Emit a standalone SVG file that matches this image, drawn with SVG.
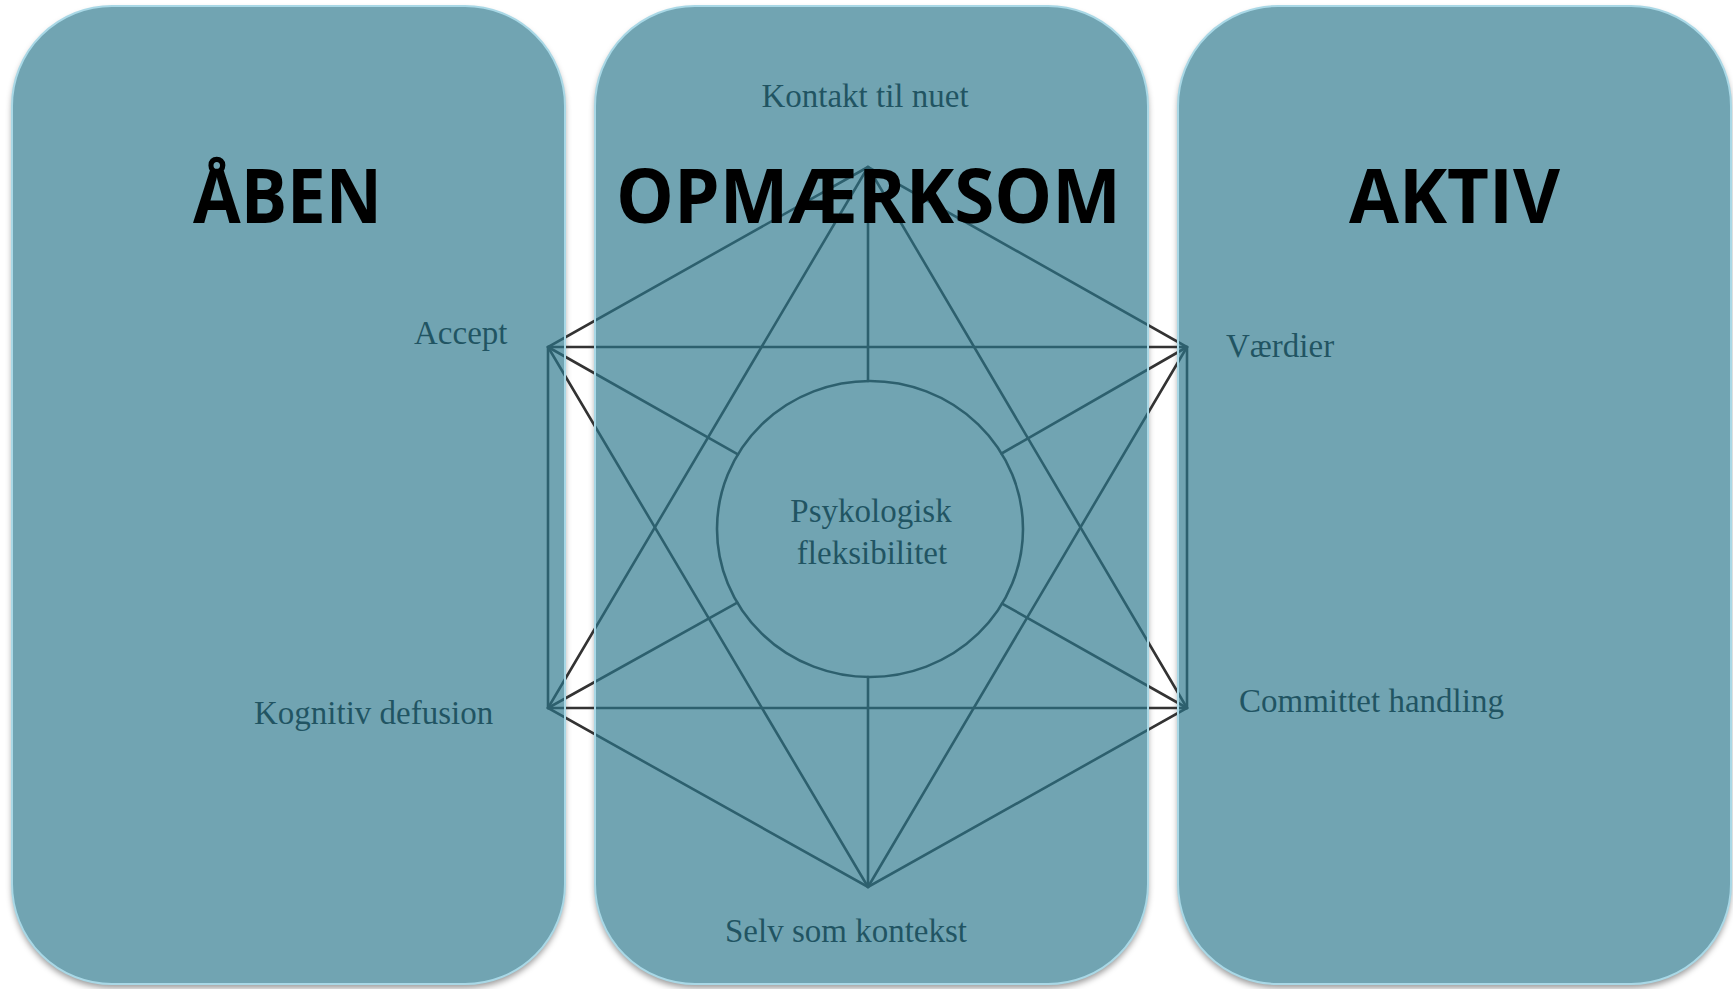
<svg xmlns="http://www.w3.org/2000/svg" width="1733" height="989" viewBox="0 0 1733 989">
<defs>
<filter id="soft" x="-5%" y="-5%" width="110%" height="110%"><feGaussianBlur stdDeviation="3"/></filter>
<style>
.shadow{fill:#000;fill-opacity:0.4}
.base{fill:#fff}
.panel{fill:#2b778c;fill-opacity:0.67;stroke:#a9d8e6;stroke-width:2}
.ln{stroke:#333;stroke-width:2.6;fill:none;stroke-linecap:round}
.lbl{font-family:"Liberation Serif","Times New Roman",serif;font-size:33px;fill:#0d0d0d}
.title{font-family:"Open Sans","Noto Sans",sans-serif;font-weight:bold;font-size:76px;fill:#000}
</style>
</defs>
<rect width="1733" height="989" fill="#fff"/>
<g id="shadows" filter="url(#soft)">
<rect class="shadow" x="12" y="10" width="553" height="978" rx="100"/>
<rect class="shadow" x="595" y="10" width="553" height="978" rx="100"/>
<rect class="shadow" x="1178" y="10" width="553" height="978" rx="100"/>
</g>
<g id="bases">
<rect class="base" x="12" y="6" width="553" height="978" rx="100"/>
<rect class="base" x="595" y="6" width="553" height="978" rx="100"/>
<rect class="base" x="1178" y="6" width="553" height="978" rx="100"/>
</g>
<g id="connectors">
<path class="ln" d="M868 167 L548 347 L548 708 L868 887 L1187 708 L1187 347 Z"/>
<line class="ln" x1="548" y1="347" x2="1187" y2="347"/>
<line class="ln" x1="548" y1="708" x2="1187" y2="708"/>
<line class="ln" x1="868" y1="167" x2="548" y2="708"/>
<line class="ln" x1="868" y1="167" x2="1187" y2="708"/>
<line class="ln" x1="868" y1="887" x2="548" y2="347"/>
<line class="ln" x1="868" y1="887" x2="1187" y2="347"/>
<line class="ln" x1="868" y1="167" x2="868" y2="381"/>
<line class="ln" x1="868" y1="887" x2="868" y2="677"/>
<line class="ln" x1="548" y1="347" x2="737.9" y2="454.3"/>
<line class="ln" x1="1187" y1="347" x2="1001.6" y2="453.5"/>
<line class="ln" x1="548" y1="708" x2="737.3" y2="602.7"/>
<line class="ln" x1="1187" y1="708" x2="1002.1" y2="603.6"/>
</g>
<g id="node-center">
<ellipse class="ln" cx="870" cy="529" rx="153" ry="148"/>
<text class="lbl" x="871" y="522" text-anchor="middle">Psykologisk</text>
<text class="lbl" x="872" y="564" text-anchor="middle">fleksibilitet</text>
</g>
<g id="node-kontakt"><text class="lbl" x="865" y="107" text-anchor="middle">Kontakt til nuet</text></g>
<g id="node-accept"><text class="lbl" x="414" y="344">Accept</text></g>
<g id="node-vaerdier"><text class="lbl" x="1226" y="357">Værdier</text></g>
<g id="node-kognitiv"><text class="lbl" x="254" y="724">Kognitiv defusion</text></g>
<g id="node-committet"><text class="lbl" x="1239" y="712">Committet handling</text></g>
<g id="node-selv"><text class="lbl" x="725" y="942">Selv som kontekst</text></g>
<g id="panel-aaben">
<rect class="panel" x="12" y="6" width="553" height="978" rx="100"/>
<text class="title" x="193" y="223" textLength="189" lengthAdjust="spacingAndGlyphs">ÅBEN</text>
</g>
<g id="panel-opmaerksom">
<rect class="panel" x="595" y="6" width="553" height="978" rx="100"/>
<text class="title" x="616" y="223" textLength="505" lengthAdjust="spacingAndGlyphs">OPMÆRKSOM</text>
</g>
<g id="panel-aktiv">
<rect class="panel" x="1178" y="6" width="553" height="978" rx="100"/>
<text class="title" x="1349" y="223" textLength="211" lengthAdjust="spacingAndGlyphs">AKTIV</text>
</g>
</svg>
